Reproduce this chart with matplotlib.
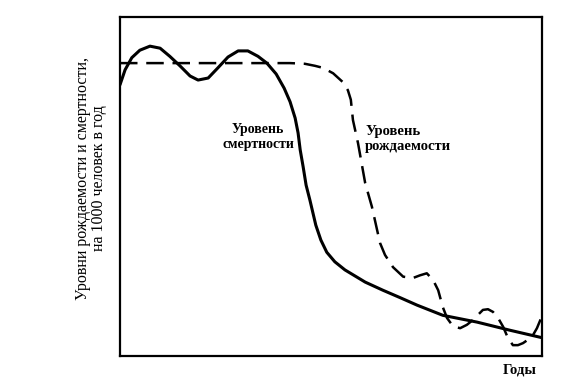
import matplotlib.pyplot as plt

# Demographic transition sketch: years (0..100, arbitrary) vs rate per 1000
death_x = [0, 1.2, 2.8, 4.7, 7.1, 9.5, 11.8, 14.2, 16.6, 18.5, 20.9, 23.2, 25.6, 28.0,
           30.3, 32.7, 34.8, 37.0, 38.9, 40.3, 41.5, 42.2, 42.7, 43.4, 44.1, 45.0,
           46.4, 47.6, 49.0, 50.9, 53.3, 55.7, 58.1, 62.3, 66.4, 70.4, 76.5, 84.6, 92.4, 100]
death_y = [40.0, 42.2, 44.0, 45.1, 45.7, 45.4, 44.2, 42.8, 41.3, 40.7, 41.0, 42.5, 44.1, 45.0,
           45.0, 44.2, 43.2, 41.6, 39.5, 37.5, 35.1, 32.9, 30.4, 27.9, 25.2, 23.0,
           19.3, 17.1, 15.3, 13.9, 12.7, 11.8, 10.9, 9.7, 8.6, 7.5, 6.0, 5.0, 3.8, 2.7]

birth_x = [0, 7.1, 19.0, 30.8, 40.3, 43.8, 46.2, 48.1, 50.5, 52.8, 54.0, 54.7, 55.2, 56.4,
           58.1, 59.7, 61.6, 62.8, 64.7, 67.1, 69.4, 71.1, 72.7, 74.2, 75.4, 76.5, 77.5,
           78.9, 80.6, 82.2, 83.6, 86.0, 87.2, 88.4, 89.6, 90.8, 91.9, 93.1, 94.3, 95.5,
           97.6, 98.8, 99.8]
birth_y = [43.2, 43.2, 43.2, 43.2, 43.2, 43.1, 42.8, 42.5, 41.7, 40.4, 39.2, 37.8, 34.8, 31.4,
           25.5, 22.0, 16.7, 14.9, 13.1, 11.7, 11.5, 11.9, 12.2, 11.2, 9.7, 7.2, 5.6,
           4.4, 4.1, 4.6, 5.3, 6.8, 6.9, 6.5, 5.6, 4.3, 2.7, 1.6, 1.6, 1.9,
           2.8, 4.1, 5.6]

serif = ['Liberation Serif', 'DejaVu Serif']

fig = plt.figure(figsize=(5.69, 3.87), dpi=100)
ax = fig.add_axes([120 / 569, 1 - 356 / 387, 422 / 569, 339 / 387])

ax.plot(death_x, death_y, color='black', linewidth=2.2, solid_capstyle='round',
        solid_joinstyle='round')
ax.plot(birth_x, birth_y, color='black', linewidth=1.8, dashes=(7, 3.5))

ax.set_xlim(0, 100)
ax.set_ylim(0, 50)
ax.set_xticks([])
ax.set_yticks([])
for s in ax.spines.values():
    s.set_linewidth(1.6)

ax.text(32.7, 32.3, 'Уровень\nсмертности', ha='center', va='center',
        family=serif, fontsize=10, fontweight='bold', linespacing=1.2)
ax.text(58.1, 32.0, 'Уровень\nрождаемости', ha='left', va='center',
        family=serif, fontsize=10.5, fontweight='bold', linespacing=1.15)

fig.text(91 / 569, 1 - 178 / 387, 'Уровни рождаемости и смертности,\nна 1000 человек в год',
         rotation=90, ha='center', va='center', family=serif, fontsize=11.5,
         multialignment='center', linespacing=1.05)
fig.text(520 / 569, 1 - 370 / 387, 'Годы', ha='center', va='center',
         family=serif, fontsize=10.5, fontweight='bold')

fig.savefig('out.png', dpi=100)
